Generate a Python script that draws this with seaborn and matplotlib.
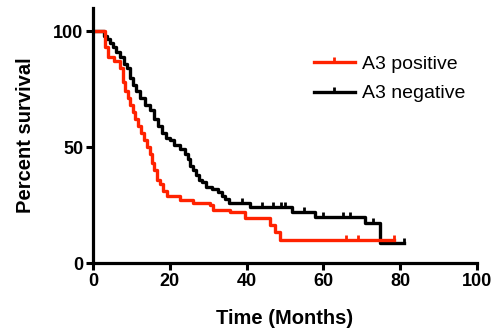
import numpy as np
import pandas as pd
import matplotlib
matplotlib.use("Agg")
import matplotlib.pyplot as plt
from matplotlib.path import Path
from matplotlib.lines import Line2D
import seaborn as sns

# ---- data ----
pos_time = [0, 3.2, 4, 5.5, 7, 7.8, 8.3, 9, 9.6, 10.3, 11, 11.7, 12.5, 13.3, 14, 14.8,
            15.4, 16, 16.7, 17.4, 18.2, 19.2, 22.7, 26, 30.5, 31.2, 35.7, 39.6, 46,
            47.4, 48.7, 78.5]
pos_surv = [100, 93, 89, 87, 84, 78, 74, 71, 68, 65, 62, 59, 56, 53, 50, 47,
            43, 40, 36, 34, 31, 29, 27, 26, 25, 23, 22, 19.5, 16.5,
            13.4, 10, 10]
pos_censor = [66, 69, 78.5]

neg_time = [0, 2.8, 3.6, 4.5, 5.2, 6, 7, 8, 8.8, 9.6, 10.4, 11.3, 12.2, 13.5, 14.8,
            16, 17, 18, 19, 20, 21, 22.6, 24, 24.7, 25.2, 26, 26.8, 27.5, 28.3,
            29.5, 31, 32.5, 33.5, 34.5, 35.5, 41, 51.8, 57.8, 70.8, 74.7, 81]
neg_surv = [100, 98, 96.5, 95, 93, 91, 89, 86, 84, 80, 77, 74, 71, 68, 66,
            62, 59, 56, 54, 53, 51, 49, 47, 45, 42, 40, 38, 36, 35,
            33, 32, 30.5, 29, 27.5, 26, 24, 22, 20, 17.4, 8.7, 8.7]
neg_censor = [38.8, 44, 47, 49, 50, 55, 60, 65, 67, 73, 81]

groups = ["A3 positive", "A3 negative"]
colors = {"A3 positive": "#FF2200", "A3 negative": "#000000"}
x_ticks = [0, 20, 40, 60, 80, 100]
y_ticks = [0, 50, 100]

df = pd.concat([
    pd.DataFrame({"time": pos_time, "surv": pos_surv, "group": groups[0]}),
    pd.DataFrame({"time": neg_time, "surv": neg_surv, "group": groups[1]}),
])


def step_value(times, survs, t):
    idx = np.searchsorted(times, t, side="right") - 1
    return np.asarray(survs)[idx]


tick_marker = Path([(0, 0), (0, 1)], [Path.MOVETO, Path.LINETO])

plt.rcParams["font.family"] = ["Liberation Sans", "DejaVu Sans"]
fig = plt.figure(figsize=(4.91, 3.29), dpi=100)
ax = fig.add_axes([0.1894, 0.2006, 0.782, 0.775])

lw = 2.4
# black first, red on top
for g, t, s, c in [(groups[1], neg_time, neg_surv, neg_censor),
                   (groups[0], pos_time, pos_surv, pos_censor)]:
    sub = df[df["group"] == g]
    sns.lineplot(data=sub, x="time", y="surv", ax=ax, color=colors[g],
                 drawstyle="steps-post", linewidth=lw, estimator=None,
                 sort=False, legend=False, zorder=3 if g == groups[0] else 2)
    cy = step_value(np.array(t), s, np.array(c))
    ax.plot(c, cy, linestyle="none", marker=tick_marker, markersize=7,
            markeredgewidth=2, color=colors[g], zorder=3)

ax.set_xlim(0, 100)
ax.set_ylim(0, 110)
ax.set_xticks(x_ticks)
ax.set_yticks(y_ticks)
ax.set_xticklabels([str(v) for v in x_ticks], fontweight="bold", fontsize=13)
ax.set_yticklabels([str(v) for v in y_ticks], fontweight="bold", fontsize=13)
ax.set_xlabel("Time (Months)", fontweight="bold", fontsize=14.5, labelpad=14)
ax.set_ylabel("Percent survival", fontweight="bold", fontsize=14.5, labelpad=13)

for side in ["top", "right"]:
    ax.spines[side].set_visible(False)
for side in ["left", "bottom"]:
    ax.spines[side].set_linewidth(2.3)
ax.tick_params(axis="both", direction="out", length=5, width=2.2, pad=2)
ax.spines["left"].set_zorder(4)

handles = [Line2D([], [], color=colors[g], linewidth=lw, marker=tick_marker,
                  markersize=7, markeredgewidth=2) for g in groups]
leg = ax.legend(handles, groups, loc="upper left", bbox_to_anchor=(0.575, 0.815),
                frameon=False, fontsize=14, handlelength=2.1, handletextpad=0.4,
                labelspacing=0.62, numpoints=1, borderaxespad=0, borderpad=0)

fig.savefig("out.png", dpi=100)
